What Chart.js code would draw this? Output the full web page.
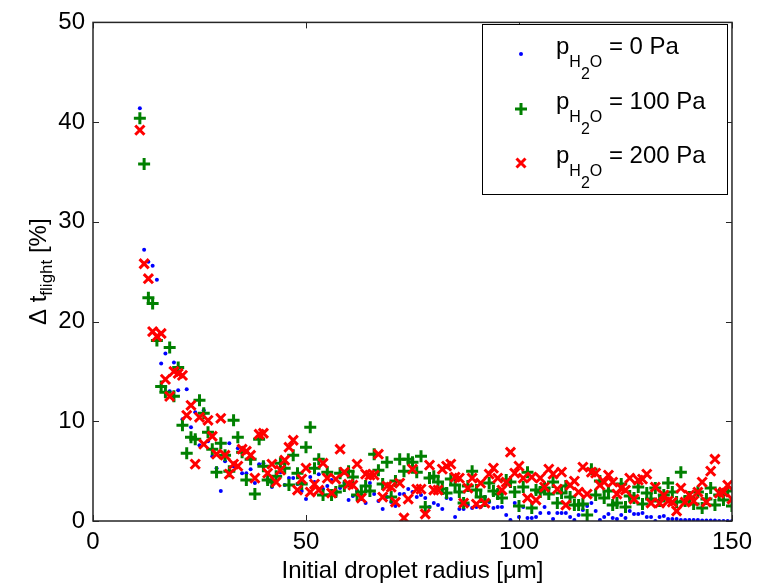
<!DOCTYPE html>
<html>
<head>
<meta charset="utf-8">
<script src="https://cdn.jsdelivr.net/npm/chart.js@4"></script>
<style>
  body { margin: 0; background: #fff; }
  #c { display: block; }
</style>
</head>
<body>
<canvas id="c" width="759" height="588" style="width:759px;height:588px"></canvas>
<script>
// droplet radius [um], one point per radius for each series
const radius = [];
for (let r = 11; r <= 150; r++) radius.push(r);

const p0 = [
  41.4, 27.2, 26.0, 25.6, 24.2, 15.8, 16.8, 13.0, 15.9, 13.1,
  10.2, 13.2, 9.4, 10.9, 7.6, 11.1, 8.0, 6.5, 5.3, 3.0,
  6.0, 7.8, 5.5, 7.3, 4.8, 4.8, 5.2, 3.8, 5.7, 5.8,
  4.2, 3.4, 4.0, 4.9, 3.6, 4.3, 4.3, 3.7, 3.0, 2.2,
  4.4, 3.9, 4.7, 3.2, 3.5, 4.1, 3.0, 3.3, 3.8, 2.1,
  2.5, 3.0, 2.2, 1.8, 3.8, 2.7, 2.0, 1.2, 2.4, 1.9,
  1.5, 2.7, 2.7, 3.2, 2.9, 2.4, 2.6, 2.3, 1.4, 1.8,
  1.6, 1.2, 2.3, 2.2, 0.4, 1.2, 1.2, 1.6, 1.3, 1.4,
  1.4, 2.4, 1.9, 1.3, 1.4, 1.4, 0.6, 0.1, 1.8, 0.4,
  1.4, 0.3, 0.3, 0.4, 0.8, 1.4, 0.8, 0.2, 0.8, 0.8,
  0.8, 0.4, 0.1, 0.6, 1.1, 1.5, 1.8, 1.0, 0.1, 0.4,
  0.7, 0.3, 0.2, 0.6, 0.3, 1.0, 0.7, 0.7, 0.8, 0.4,
  0.4, 0.0, 0.4, 0.5, 0.2, 0.2, 0.2, 0.1, 0.1, 0.1,
  0.1, 0.1, 0.05, 0.05, 0.05, 0.05, 0.0, 0.0, 0.0, 0.0
];

const p100 = [
  40.4, 35.8, 22.4, 21.8, 18.1, 13.5, 12.9, 17.4, 12.5, 15.4,
  9.6, 6.8, 8.4, 8.2, 12.1, 10.8, 8.9, 7.2, 4.9, 7.8,
  6.6, 5.0, 10.1, 8.4, 6.9, 4.1, 6.2, 2.7, 8.2, 5.5,
  4.1, 3.9, 4.5, 5.8, 5.3, 3.6, 6.6, 4.8, 3.7, 7.4,
  9.4, 5.3, 6.2, 2.6, 4.9, 2.6, 2.9, 4.8, 3.5, 5.0,
  4.4, 2.6, 2.9, 3.5, 3.0, 6.7, 5.1, 3.7, 5.9, 2.4,
  4.0, 6.2, 5.0, 6.2, 5.9, 4.9, 6.5, 1.4, 4.3, 4.5,
  3.9, 3.2, 2.8, 4.2, 3.6, 2.9, 1.8, 3.5, 5.0, 3.1,
  2.4, 2.0, 3.8, 3.0, 2.7, 2.3, 4.1, 3.9, 2.9, 1.5,
  3.4, 4.9, 1.3, 3.1, 2.9, 3.3, 2.7, 3.9, 1.8, 2.8,
  3.5, 2.4, 1.6, 1.6, 1.7, 0.6, 5.2, 2.6, 4.0, 2.3,
  3.0, 1.6, 1.8, 3.7, 1.4, 2.5, 2.3, 3.4, 1.7, 2.8,
  2.2, 3.3, 2.0, 2.6, 3.8, 2.9, 1.9, 4.9, 2.0, 2.4,
  1.7, 2.9, 1.3, 2.2, 3.3, 1.6, 2.6, 2.1, 3.0, 1.5
];

const p200 = [
  39.2, 25.8, 24.3, 19.0, 18.5, 18.8, 14.2, 12.5, 15.0, 14.8,
  14.6, 10.6, 11.6, 5.7, 10.4, 7.7, 10.1, 8.5, 6.7, 10.3,
  6.6, 4.7, 5.7, 5.5, 7.2, 7.0, 6.6, 4.3, 8.7, 8.8,
  4.8, 5.7, 3.9, 5.1, 6.1, 7.4, 8.1, 3.1, 4.2, 5.3,
  2.9, 3.7, 3.1, 5.8, 4.3, 2.8, 4.2, 7.2, 4.9, 3.7,
  3.6, 5.7, 2.3, 4.7, 4.6, 4.6, 6.7, 2.4, 3.5, 3.4,
  1.9, 3.8, 0.3, 2.2, 5.2, 3.2, 3.2, 0.7, 5.6, 3.1,
  3.1, 5.2, 5.5, 5.7, 4.4, 4.3, 1.8, 3.3, 4.3, 1.7,
  3.8, 1.8, 4.7, 5.3, 4.3, 3.1, 3.9, 6.9, 4.8, 5.5,
  4.3, 2.3, 4.4, 2.1, 4.3, 3.4, 5.2, 4.7, 3.2, 4.9,
  1.6, 3.6, 4.0, 2.9, 5.4, 2.7, 4.9, 4.8, 3.6, 3.9,
  4.6, 3.9, 2.7, 3.3, 3.1, 4.3, 2.2, 4.1, 4.2, 4.7,
  1.8, 3.4, 1.8, 2.6, 2.0, 1.9, 1.0, 3.3, 1.9, 2.6,
  2.0, 2.9, 3.9, 1.9, 5.0, 6.2, 2.8, 2.9, 3.6, 2.2
];

const xTicks = [0, 50, 100, 150];
const yTicks = [0, 10, 20, 30, 40, 50];
const seriesLabels = ["0 Pa", "100 Pa", "200 Pa"];

const FONT = "Liberation Sans, Arial, Helvetica, sans-serif";

function pts(ys) {
  return radius.map((r, i) => ({ x: r, y: ys[i] }));
}

// frame, inward ticks, axis titles and the legend, drawn MATLAB style
const decor = {
  id: "decor",
  afterDraw(chart) {
    const ctx = chart.ctx;
    const a = chart.chartArea;
    const xs = chart.scales.x, ys = chart.scales.y;
    ctx.save();
    ctx.strokeStyle = "#262626";
    ctx.lineWidth = 1.5;
    ctx.strokeRect(a.left, a.top, a.right - a.left, a.bottom - a.top);
    ctx.lineWidth = 1;
    const tl = 6;
    ctx.beginPath();
    xTicks.forEach(v => {
      const px = Math.round(xs.getPixelForValue(v)) + 0.5;
      ctx.moveTo(px, a.bottom); ctx.lineTo(px, a.bottom - tl);
      ctx.moveTo(px, a.top); ctx.lineTo(px, a.top + tl);
    });
    yTicks.forEach(v => {
      const py = Math.round(ys.getPixelForValue(v)) + 0.5;
      ctx.moveTo(a.left, py); ctx.lineTo(a.left + tl, py);
      ctx.moveTo(a.right, py); ctx.lineTo(a.right - tl, py);
    });
    ctx.stroke();

    ctx.fillStyle = "#000";
    // x title
    ctx.font = "24px " + FONT;
    ctx.textAlign = "center";
    ctx.textBaseline = "alphabetic";
    ctx.fillText("Initial droplet radius [\u03bcm]", (a.left + a.right) / 2, 578);

    // y title with subscript
    ctx.save();
    ctx.translate(46, (a.top + a.bottom) / 2);
    ctx.rotate(-Math.PI / 2);
    ctx.textAlign = "left";
    const big = "24px " + FONT, small = "17px " + FONT;
    ctx.font = big; const w1 = ctx.measureText("\u0394 t").width;
    ctx.font = small; const w2 = ctx.measureText("flight").width;
    ctx.font = big; const w3 = ctx.measureText(" [%]").width;
    let x0 = -(w1 + w2 + w3) / 2;
    ctx.font = big; ctx.fillText("\u0394 t", x0, 0); x0 += w1;
    ctx.font = small; ctx.fillText("flight", x0, 6); x0 += w2;
    ctx.font = big; ctx.fillText(" [%]", x0, 0);
    ctx.restore();

    // legend
    const lx = 482, ly = 24, lw = 245, lh = 170;
    ctx.fillStyle = "#fff";
    ctx.fillRect(lx, ly, lw, lh);
    ctx.strokeStyle = "#000";
    ctx.lineWidth = 1;
    ctx.strokeRect(lx + 0.5, ly + 0.5, lw, lh);
    const rows = [54, 109, 163];
    const mx = 521;
    rows.forEach((cy, i) => {
      ctx.lineWidth = 3;
      if (i === 0) {
        ctx.fillStyle = "#0000ff";
        ctx.beginPath(); ctx.arc(mx, cy, 2, 0, Math.PI * 2); ctx.fill();
      } else if (i === 1) {
        ctx.strokeStyle = "#008000";
        ctx.beginPath();
        ctx.moveTo(mx - 6, cy); ctx.lineTo(mx + 6, cy);
        ctx.moveTo(mx, cy - 6); ctx.lineTo(mx, cy + 6);
        ctx.stroke();
      } else {
        ctx.strokeStyle = "#ff0000";
        ctx.beginPath();
        ctx.moveTo(mx - 4.5, cy - 4.5); ctx.lineTo(mx + 4.5, cy + 4.5);
        ctx.moveTo(mx - 4.5, cy + 4.5); ctx.lineTo(mx + 4.5, cy - 4.5);
        ctx.stroke();
      }
      ctx.fillStyle = "#000";
      ctx.textAlign = "left";
      const base = cy;
      let tx = 556;
      ctx.font = "24px " + FONT;
      ctx.fillText("p", tx, base); tx += ctx.measureText("p").width;
      ctx.font = "16px " + FONT;
      ctx.fillText("H", tx, base + 13); tx += ctx.measureText("H").width;
      ctx.fillText("2", tx, base + 25); tx += ctx.measureText("2").width;
      ctx.fillText("O", tx, base + 13); tx += ctx.measureText("O").width;
      ctx.font = "24px " + FONT;
      ctx.fillText(" = " + seriesLabels[i], tx, base);
    });
    ctx.restore();
  }
};

new Chart(document.getElementById("c"), {
  type: "scatter",
  data: {
    datasets: [
      {
        label: "0 Pa",
        data: pts(p0),
        order: 3,
        pointStyle: "circle",
        pointRadius: 2,
        pointBorderWidth: 0,
        backgroundColor: "#0000ff",
        borderColor: "#0000ff"
      },
      {
        label: "100 Pa",
        data: pts(p100),
        order: 2,
        pointStyle: "cross",
        pointRadius: 6,
        pointBorderWidth: 3,
        borderColor: "#008000",
        backgroundColor: "#008000"
      },
      {
        label: "200 Pa",
        data: pts(p200),
        order: 1,
        pointStyle: "crossRot",
        pointRadius: 6.5,
        pointBorderWidth: 3,
        borderColor: "#ff0000",
        backgroundColor: "#ff0000"
      }
    ]
  },
  options: {
    responsive: false,
    animation: false,
    devicePixelRatio: 1,
    layout: { padding: { top: 16, right: 22, left: 0, bottom: 0 } },
    plugins: { legend: { display: false }, tooltip: { enabled: false } },
    events: [],
    scales: {
      x: {
        type: "linear",
        min: 0,
        max: 150,
        afterFit: s => { s.height = 67; },
        afterBuildTicks: s => { s.ticks = xTicks.map(v => ({ value: v })); },
        grid: { display: false, drawTicks: false },
        border: { display: false },
        ticks: { font: { family: FONT, size: 24 }, color: "#000", padding: 7, maxRotation: 0 }
      },
      y: {
        type: "linear",
        min: 0,
        max: 50,
        afterFit: s => { s.width = 93; },
        afterBuildTicks: s => { s.ticks = yTicks.map(v => ({ value: v })); },
        grid: { display: false, drawTicks: false },
        border: { display: false },
        ticks: { font: { family: FONT, size: 24 }, color: "#000", padding: 8 }
      }
    }
  },
  plugins: [decor]
});
</script>
</body>
</html>
